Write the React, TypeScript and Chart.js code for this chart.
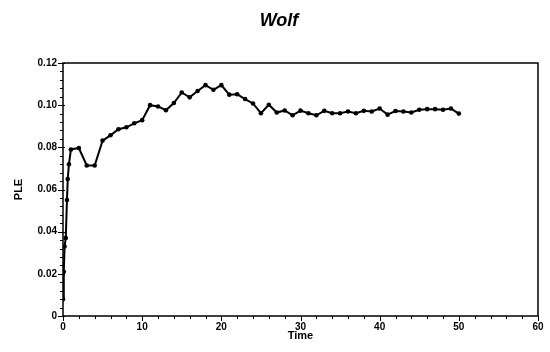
import React, { useEffect, useRef } from "react";
import { Chart, registerables } from "chart.js";

Chart.register(...registerables);

const titleText = "Wolf";
const xAxisTitle = "Time";
const yAxisTitle = "PLE";

const times: number[] = [
  0, 0.1, 0.2, 0.35, 0.5, 0.6, 0.75, 1,
  2, 3, 4, 5, 6, 7, 8, 9, 10,
  11, 12, 13, 14, 15, 16, 17, 18, 19, 20,
  21, 22, 23, 24, 25, 26, 27, 28, 29, 30,
  31, 32, 33, 34, 35, 36, 37, 38, 39, 40,
  41, 42, 43, 44, 45, 46, 47, 48, 49, 50,
];

const pleValues: number[] = [
  0.008, 0.021, 0.033, 0.037, 0.055, 0.065, 0.072, 0.079,
  0.0797, 0.0714, 0.0714, 0.0832, 0.0857, 0.0886, 0.0895, 0.0914, 0.0929,
  0.1, 0.0994, 0.0976, 0.101, 0.106, 0.1037, 0.1067, 0.1095, 0.1073, 0.1095,
  0.105, 0.1052, 0.1029, 0.1008, 0.0962, 0.1002, 0.0965, 0.0975, 0.0952, 0.0974,
  0.0962, 0.0952, 0.0973, 0.0962, 0.0962, 0.097, 0.0962, 0.0973, 0.097, 0.0984,
  0.0955, 0.0972, 0.097, 0.0965, 0.0978, 0.0981, 0.0981, 0.0978, 0.0984, 0.096,
];

const xMin = 0;
const xMax = 60;
const xMajorStep = 10;
const xMinorStep = 2;
const yMin = 0;
const yMax = 0.12;
const yMajorStep = 0.02;
const yMinorStep = 0.004;

const FONT = "'Liberation Sans', Arial, Helvetica, sans-serif";

const framePlugin = {
  id: "framePlugin",
  afterDraw(chart: any) {
    const { ctx, chartArea, scales } = chart;
    const { left, right, top, bottom } = chartArea;
    const xs = scales.x;
    const ys = scales.y;
    ctx.save();
    ctx.strokeStyle = "#000";
    ctx.lineWidth = 1.5;
    ctx.strokeRect(left, top, right - left, bottom - top);
    ctx.lineWidth = 1;
    const nY = Math.round((yMax - yMin) / yMinorStep);
    for (let i = 0; i <= nY; i++) {
      const v = yMin + i * yMinorStep;
      const py = Math.round(ys.getPixelForValue(v)) + 0.5;
      const isMajor = i % Math.round(yMajorStep / yMinorStep) === 0;
      ctx.beginPath();
      ctx.moveTo(left - (isMajor ? 5 : 3), py);
      ctx.lineTo(left + (isMajor ? 2 : 0), py);
      ctx.stroke();
    }
    const nX = Math.round((xMax - xMin) / xMinorStep);
    for (let i = 0; i <= nX; i++) {
      const v = xMin + i * xMinorStep;
      const px = Math.round(xs.getPixelForValue(v)) + 0.5;
      const isMajor = i % Math.round(xMajorStep / xMinorStep) === 0;
      ctx.beginPath();
      ctx.moveTo(px, bottom);
      ctx.lineTo(px, bottom + (isMajor ? 5 : 3));
      ctx.stroke();
    }
    ctx.restore();
  },
};

export default function App() {
  const canvasRef = useRef<HTMLCanvasElement | null>(null);

  useEffect(() => {
    document.body.style.margin = "0";
    const canvas = canvasRef.current;
    if (!canvas) return;
    const points = times.map((t, i) => ({ x: t, y: pleValues[i] }));
    const chart = new Chart(canvas, {
      type: "line",
      data: {
        datasets: [
          {
            label: yAxisTitle,
            data: points,
            borderColor: "#000",
            backgroundColor: "#000",
            borderWidth: 2,
            pointRadius: 2.3,
            pointBorderWidth: 0,
            pointBackgroundColor: "#000",
            tension: 0,
          },
        ],
      },
      options: {
        responsive: false,
        animation: false,
        devicePixelRatio: 1,
        layout: { padding: { top: 0, left: 20, right: 12, bottom: 0 } },
        plugins: {
          legend: { display: false },
          tooltip: { enabled: false },
          title: {
            display: true,
            text: titleText,
            color: "#000",
            font: { family: FONT, size: 18, weight: "bold", style: "italic" },
            padding: { top: 10, bottom: 31.4 },
          },
        },
        scales: {
          x: {
            type: "linear",
            min: xMin,
            max: xMax,
            afterFit: (s: any) => {
              s.height = 36;
            },
            grid: { display: false, drawTicks: false },
            border: { display: false },
            ticks: {
              stepSize: xMajorStep,
              padding: 5,
              color: "#000",
              maxRotation: 0,
              font: { family: FONT, size: 10, weight: "bold" },
            },
            title: {
              display: true,
              text: xAxisTitle,
              color: "#000",
              font: { family: FONT, size: 11, weight: "bold" },
              padding: { top: 0, bottom: 9 },
            },
          },
          y: {
            type: "linear",
            min: yMin,
            max: yMax,
            afterFit: (s: any) => {
              s.width = 43;
            },
            grid: { display: false, drawTicks: false },
            border: { display: false },
            ticks: {
              stepSize: yMajorStep,
              padding: 6,
              color: "#000",
              font: { family: FONT, size: 10, weight: "bold" },
              callback: (v: any) => (Number(v) === 0 ? "0" : Number(v).toFixed(2)),
            },
            title: {
              display: true,
              text: yAxisTitle,
              color: "#000",
              font: { family: FONT, size: 11, weight: "bold" },
              padding: { top: -7.6, bottom: 0 },
            },
          },
        },
      },
      plugins: [framePlugin],
    });
    return () => chart.destroy();
  }, []);

  return (
    <div style={{ width: 550, height: 352, background: "#fff" }}>
      <canvas ref={canvasRef} width={550} height={352} />
    </div>
  );
}
